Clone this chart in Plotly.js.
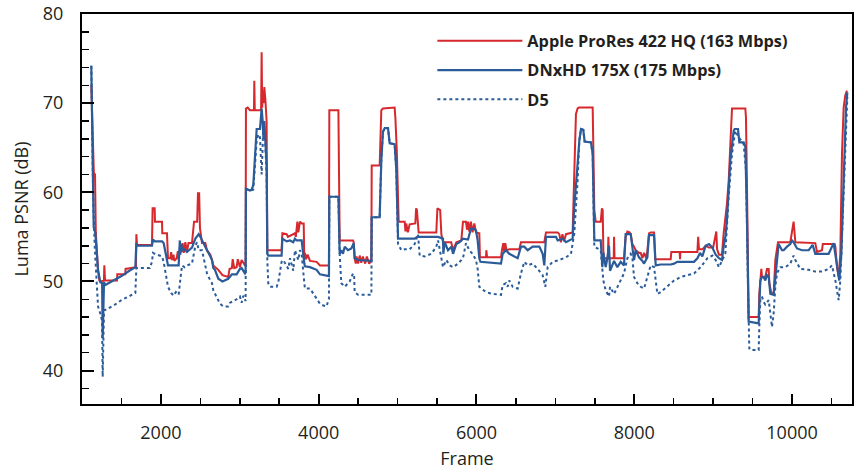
<!DOCTYPE html>
<html>
<head>
<meta charset="utf-8">
<script src="https://cdn.plot.ly/plotly-3.0.1.min.js"></script>
<style>html,body{margin:0;padding:0;background:#fff;}#chart{width:854px;height:472px;}</style>
</head>
<body>
<div id="chart"></div>
<script>
// Series names
const seriesNames = ["Apple ProRes 422 HQ (163 Mbps)", "DNxHD 175X (175 Mbps)", "D5"];

// Apple ProRes 422 HQ: [frame, luma PSNR dB]
const proresData = [
[1118,72.0],[1140,65.0],[1150,62.2],[1165,62.0],[1175,55.5],[1203,51.3],[1220,50.1],[1254,50.0],[1278,50.1],[1283,51.8],[1292,50.1],
[1444,50.1],[1447,50.8],[1549,50.8],[1552,51.4],[1684,51.6],[1689,55.3],[1697,54.1],[1887,54.1],[1895,58.2],[1921,58.2],[1925,56.7],
[2014,56.7],[2018,55.4],[2077,55.4],[2090,52.6],[2120,52.6],[2130,53.3],[2140,52.4],[2160,53.0],[2170,52.3],[2200,52.6],[2215,53.4],
[2225,52.5],[2246,54.2],[2260,53.3],[2275,54.3],[2290,53.2],[2310,54.4],[2330,53.3],[2350,54.3],[2394,54.3],[2420,56.7],[2460,56.7],
[2470,59.9],[2485,59.9],[2495,56.0],[2521,54.3],[2563,54.3],[2584,53.5],[2627,53.0],[2648,52.4],[2664,51.8],[2728,51.3],[2780,50.7],
[2854,50.5],[2870,51.4],[2900,51.5],[2910,52.5],[2930,51.5],[2960,51.6],[2975,52.5],[3002,51.6],[3023,52.4],[3045,52.0],[3066,51.8],
[3074,52.0],[3078,69.4],[3100,69.5],[3129,69.2],[3180,69.2],[3184,72.5],[3190,69.2],[3270,69.2],[3277,75.7],[3284,69.5],[3290,71.4],
[3300,70.0],[3311,71.8],[3325,70.3],[3340,68.0],[3349,53.5],[3530,53.5],[3540,55.4],[3594,55.3],[3610,55.0],[3636,55.1],[3699,55.4],
[3710,55.0],[3730,56.7],[3742,55.5],[3763,56.7],[3784,56.5],[3810,56.5],[3818,52.4],[3826,53.2],[3840,52.5],[3860,53.0],[3890,52.3],
[3974,52.2],[4016,51.8],[4122,51.8],[4130,51.9],[4135,69.2],[4250,69.2],[4266,54.6],[4435,54.6],[4444,54.4],[4456,52.6],[4470,52.0],
[4480,52.8],[4500,52.0],[4520,52.9],[4540,52.1],[4560,52.8],[4590,52.0],[4610,52.8],[4640,52.0],[4668,52.3],[4672,63.0],[4773,63.0],
[4780,65.4],[4794,69.2],[4815,69.4],[4963,69.5],[4972,68.4],[4990,64.7],[5014,56.7],[5090,56.7],[5100,55.6],[5110,56.5],[5130,55.5],
[5153,56.4],[5225,56.5],[5235,58.2],[5245,58.0],[5267,55.5],[5491,55.5],[5505,58.2],[5540,58.0],[5555,55.3],[5576,54.4],[5680,54.4],
[5703,53.5],[5745,54.4],[5808,54.6],[5829,56.7],[5867,56.7],[5880,55.8],[5895,56.7],[5910,55.6],[5930,56.7],[5950,55.5],[5973,56.5],
[5994,55.5],[6036,55.4],[6044,52.7],[6121,52.7],[6125,53.5],[6135,52.7],[6311,52.7],[6323,53.5],[6340,54.3],[6350,53.4],[6365,54.3],
[6380,53.5],[6416,53.6],[6543,53.6],[6564,54.4],[6860,54.4],[6881,55.5],[7029,55.5],[7050,55.3],[7070,54.4],[7090,55.3],[7110,54.5],
[7135,55.3],[7219,55.5],[7240,61.3],[7261,68.8],[7282,69.4],[7300,69.5],[7473,69.5],[7481,62.8],[7494,58.0],[7511,56.7],[7575,56.7],
[7590,58.2],[7600,58.0],[7608,53.5],[7617,52.6],[7665,52.6],[7672,55.0],[7680,52.6],[7740,52.6],[7744,55.0],[7750,52.6],[7870,52.6],
[7891,55.0],[7913,55.6],[7940,55.5],[7955,55.3],[7976,54.2],[7997,53.9],[8018,53.5],[8060,53.2],[8082,53.2],[8103,52.6],[8124,53.2],
[8150,52.6],[8166,53.4],[8187,55.4],[8208,55.5],[8251,55.5],[8265,52.5],[8462,52.5],[8470,53.3],[8575,53.3],[8580,52.5],[8585,53.3],
[8800,53.3],[8810,55.0],[8821,53.6],[8863,53.6],[8905,54.0],[8948,53.8],[9000,53.8],[9040,55.6],[9050,53.6],[9074,53.0],[9112,53.0],
[9133,55.4],[9154,56.9],[9175,58.7],[9197,61.3],[9218,65.4],[9230,69.0],[9239,69.4],[9408,69.4],[9416,68.4],[9429,60.6],[9450,46.0],
[9577,46.0],[9585,48.6],[9611,51.4],[9619,50.5],[9661,50.5],[9682,51.4],[9704,51.4],[9712,49.8],[9737,48.7],[9767,48.6],[9788,52.4],
[9822,54.4],[9978,54.4],[9999,55.5],[10020,56.7],[10042,54.4],[10295,54.3],[10316,53.3],[10380,53.5],[10390,54.2],[10540,54.2],
[10549,53.9],[10570,51.6],[10591,50.5],[10612,53.1],[10633,64.3],[10654,69.5],[10675,70.9],[10696,71.4]
];

// DNxHD 175X: [frame, luma PSNR dB]
const dnxhdData = [
[1118,74.2],[1135,62.0],[1148,56.1],[1169,55.4],[1203,51.3],[1232,49.9],[1255,49.8],[1262,43.6],[1272,49.5],[1279,49.9],[1296,49.6],
[1400,50.1],[1500,50.6],[1600,51.2],[1676,51.6],[1689,54.3],[1697,54.0],[1887,54.0],[1900,54.7],[1921,54.5],[2014,54.5],[2035,54.3],
[2077,52.0],[2090,51.8],[2225,51.8],[2240,54.6],[2246,53.0],[2260,54.2],[2268,53.5],[2300,53.6],[2330,53.3],[2394,53.8],[2437,54.8],
[2479,55.3],[2500,55.0],[2521,54.6],[2563,53.8],[2584,53.5],[2627,52.8],[2648,52.4],[2664,51.5],[2685,51.3],[2728,50.3],[2780,50.0],
[2854,50.3],[2900,50.8],[2960,50.8],[3002,51.4],[3023,51.5],[3045,51.2],[3066,50.9],[3074,51.0],[3078,60.4],[3129,60.2],[3150,60.3],
[3171,60.8],[3192,63.6],[3214,67.1],[3256,67.1],[3277,69.4],[3290,68.0],[3300,66.0],[3311,68.0],[3319,66.8],[3340,63.0],[3349,53.1],
[3361,52.9],[3530,52.9],[3540,54.8],[3594,54.5],[3636,54.6],[3678,54.4],[3699,54.8],[3720,54.6],[3784,54.6],[3818,52.0],[3826,51.7],
[3890,51.6],[3974,51.3],[4016,50.8],[4122,50.6],[4130,50.6],[4135,59.5],[4250,59.5],[4266,53.1],[4287,53.5],[4308,53.1],[4330,53.9],
[4372,53.5],[4414,53.7],[4444,54.3],[4456,52.6],[4500,52.4],[4668,52.3],[4672,57.2],[4773,57.2],[4794,63.6],[4815,66.8],[4837,67.2],
[4879,67.2],[4900,65.5],[4963,65.4],[4984,62.5],[5006,54.8],[5217,54.8],[5250,55.0],[5513,55.0],[5576,54.8],[5580,53.1],[5597,54.4],
[5639,53.5],[5682,53.9],[5703,53.1],[5745,54.2],[5787,54.4],[5829,54.8],[5893,54.7],[5930,55.9],[5973,55.9],[5994,55.7],[6015,54.6],
[6036,52.6],[6050,52.2],[6311,52.0],[6332,53.1],[6374,53.5],[6416,53.1],[6459,52.9],[6522,52.6],[6564,53.9],[6606,53.9],[6649,53.5],
[6712,53.9],[6797,53.9],[6839,53.1],[6860,51.8],[6881,55.0],[7008,55.0],[7029,54.6],[7092,54.8],[7135,54.4],[7219,54.8],[7240,58.4],
[7282,63.2],[7304,65.8],[7325,67.1],[7354,67.0],[7371,65.7],[7451,65.6],[7473,64.3],[7494,54.6],[7575,54.6],[7596,51.6],[7608,53.2],
[7638,51.6],[7659,52.6],[7680,54.0],[7693,51.2],[7744,52.3],[7786,51.6],[7828,52.2],[7870,51.8],[7891,55.3],[7955,55.3],[7997,52.4],
[8018,53.5],[8060,52.7],[8103,52.3],[8124,52.0],[8166,52.7],[8187,55.2],[8251,55.2],[8272,51.8],[8335,51.9],[8462,51.9],[8504,52.0],
[8546,52.2],[8758,52.2],[8800,52.6],[8834,53.2],[8863,52.8],[8905,54.0],[8948,54.2],[8990,53.8],[9032,53.0],[9074,52.6],[9112,52.4],
[9133,53.9],[9154,54.9],[9175,56.9],[9197,60.6],[9218,63.6],[9260,66.9],[9273,67.1],[9315,67.1],[9332,65.6],[9387,65.6],[9408,65.1],
[9429,56.9],[9450,45.5],[9577,45.3],[9598,50.1],[9619,50.5],[9640,50.5],[9661,50.1],[9682,50.7],[9704,50.5],[9725,48.6],[9767,48.5],
[9788,50.5],[9830,54.2],[9873,53.5],[9894,53.5],[9936,53.9],[9978,54.2],[9999,54.6],[10020,54.4],[10063,53.7],[10126,53.5],[10211,53.5],
[10261,54.1],[10295,53.1],[10380,53.1],[10464,53.1],[10527,54.3],[10570,52.0],[10599,50.1],[10625,53.1],[10654,62.5],[10684,69.5],[10701,71.2]
];

// D5: [frame, luma PSNR dB]
const d5Data = [
[1118,74.2],[1140,60.0],[1161,54.0],[1203,47.2],[1232,46.4],[1254,45.6],[1262,39.3],[1270,44.5],[1279,46.8],[1296,46.8],[1400,47.3],
[1500,47.9],[1600,48.4],[1676,48.7],[1689,51.5],[1860,51.5],[1887,52.2],[1900,53.2],[1921,53.1],[2014,52.8],[2035,52.2],[2077,49.8],[2090,49.4],
[2130,48.7],[2160,48.4],[2190,48.8],[2225,48.5],[2246,50.2],[2268,51.8],[2300,51.6],[2330,51.8],[2394,52.0],[2437,54.0],[2458,54.4],
[2479,53.5],[2521,53.5],[2563,51.5],[2584,50.9],[2627,50.1],[2648,49.8],[2664,49.0],[2685,48.6],[2749,47.5],[2790,47.2],[2854,47.2],
[2876,47.6],[2960,48.0],[3002,48.3],[3023,47.6],[3045,48.4],[3066,47.8],[3074,47.8],[3078,60.4],[3129,60.2],[3171,60.3],[3192,62.5],
[3214,65.8],[3235,66.5],[3256,66.2],[3277,62.0],[3298,67.3],[3319,66.2],[3340,62.0],[3349,52.4],[3361,49.8],[3383,49.4],[3467,49.4],
[3488,49.9],[3530,52.2],[3551,52.4],[3615,51.4],[3636,52.6],[3678,51.2],[3699,53.5],[3742,52.4],[3763,53.5],[3784,53.1],[3818,49.8],
[3826,49.2],[3890,49.2],[3932,48.6],[3974,48.1],[4016,47.5],[4059,47.3],[4101,47.2],[4122,47.9],[4130,48.0],[4135,59.5],[4250,59.5],
[4266,53.1],[4287,49.8],[4330,49.4],[4393,50.0],[4435,50.9],[4450,50.5],[4456,48.8],[4499,48.5],[4668,48.5],[4672,57.2],[4773,57.2],
[4794,63.6],[4815,66.8],[4837,67.2],[4879,67.2],[4900,65.5],[4963,65.4],[4984,62.5],[5006,54.2],[5048,53.5],[5090,53.6],[5153,53.6],
[5217,54.2],[5259,55.3],[5280,52.9],[5344,52.8],[5428,53.1],[5491,53.9],[5513,54.6],[5555,52.4],[5576,51.6],[5618,52.4],[5660,51.8],
[5703,51.6],[5766,52.0],[5829,52.6],[5867,54.3],[5909,53.5],[5950,53.1],[5994,52.4],[6015,51.4],[6036,49.4],[6121,48.8],[6200,48.6],
[6311,48.5],[6332,49.6],[6374,49.8],[6395,49.4],[6416,50.1],[6459,49.4],[6522,49.2],[6564,50.9],[6606,52.2],[6649,51.8],[6712,52.0],
[6775,51.4],[6839,50.7],[6873,49.4],[6902,51.6],[6966,52.2],[7050,52.4],[7135,52.7],[7198,53.1],[7240,55.4],[7282,61.3],[7304,65.8],
[7325,67.1],[7354,67.0],[7371,65.7],[7451,65.6],[7473,64.3],[7494,53.9],[7575,53.5],[7608,50.1],[7638,49.0],[7680,48.3],[7693,49.4],
[7744,48.6],[7786,49.4],[7828,50.1],[7870,50.9],[7913,52.6],[7955,53.1],[7976,52.7],[7997,50.5],[8039,49.8],[8082,49.4],[8124,49.2],
[8166,50.5],[8208,51.8],[8251,51.6],[8293,48.6],[8335,48.8],[8420,49.4],[8504,50.1],[8589,50.5],[8673,50.7],[8758,50.9],[8842,51.6],
[8927,52.6],[8990,52.9],[9032,52.4],[9074,51.6],[9112,52.4],[9154,53.1],[9197,59.5],[9239,64.3],[9281,66.9],[9323,66.2],[9387,65.4],
[9416,62.5],[9442,49.4],[9458,42.5],[9471,42.3],[9577,42.3],[9585,44.9],[9598,47.9],[9619,48.3],[9640,47.7],[9661,47.4],[9704,47.9],
[9725,46.4],[9746,44.9],[9767,46.4],[9788,49.4],[9809,50.9],[9851,51.6],[9915,51.6],[9978,52.0],[10020,52.9],[10042,52.4],[10105,51.4],
[10211,51.3],[10295,51.1],[10380,51.1],[10464,51.4],[10506,51.8],[10549,50.1],[10591,47.9],[10612,50.1],[10642,56.9],[10675,64.3],[10701,70.7]
];

const xTickVals = [2000, 4000, 6000, 8000, 10000];
const yTickVals = [40, 50, 60, 70, 80];

const red = '#d6282d';
const blue = '#2b5c99';
const font = 'Open Sans, Noto Sans, sans-serif';

function mk(data, name, color, dash, width, group) {
  return {
    x: data.map(d => d[0]), y: data.map(d => d[1]),
    type: 'scatter', mode: 'lines', name: name, legendgroup: group,
    line: {color: color, width: width, dash: dash}
  };
}

const traces = [
  mk(proresData, seriesNames[0], red, 'solid', 2, 'a'),
  mk(dnxhdData, seriesNames[1], blue, 'solid', 2.2, 'b'),
  mk(d5Data, seriesNames[2], blue, 'dot', 2, 'c')
];

const layout = {
  width: 854, height: 472,
  margin: {l: 82, r: 2, t: 14, b: 68},
  paper_bgcolor: '#fff', plot_bgcolor: '#fff',
  font: {family: font, size: 18, color: '#231f20'},
  showlegend: true,
  legend: {
    x: 0.455, y: 0.975, xanchor: 'left', yanchor: 'top',
    bgcolor: 'rgba(0,0,0,0)', borderwidth: 0,
    font: {family: font, size: 16.3, color: '#231f20', weight: 'bold'},
    itemwidth: 85, traceorder: 'grouped', tracegroupgap: 5
  },
  xaxis: {
    range: [1000, 10760], tickvals: xTickVals, ticktext: xTickVals.map(String),
    ticks: 'inside', ticklen: 10, tickwidth: 2, tickcolor: '#000',
    showline: true, linewidth: 2, linecolor: '#000', mirror: true,
    showgrid: false, zeroline: false,
    minor: {dtick: 500, tick0: 0, ticks: 'inside', ticklen: 6, tickwidth: 1.5, tickcolor: '#000', showgrid: false},
    ticklabelstandoff: 11,
    tickfont: {family: font, size: 18, color: '#231f20'},
    title: {text: 'Frame', font: {family: font, size: 18, color: '#231f20'}, standoff: 10}
  },
  yaxis: {
    range: [36.25, 80], tickvals: yTickVals, ticktext: yTickVals.map(String),
    ticks: 'inside', ticklen: 12, tickwidth: 2, tickcolor: '#000',
    showline: true, linewidth: 2, linecolor: '#000', mirror: true,
    showgrid: false, zeroline: false,
    minor: {dtick: 2, tick0: 0, ticks: 'inside', ticklen: 7, tickwidth: 1.5, tickcolor: '#000', showgrid: false},
    ticklabelstandoff: 13,
    tickfont: {family: font, size: 18, color: '#231f20'},
    title: {text: 'Luma PSNR (dB)', font: {family: font, size: 18, color: '#231f20'}, standoff: 10}
  }
};

Plotly.newPlot('chart', traces, layout, {displayModeBar: false, staticPlot: true});
</script>
</body>
</html>
